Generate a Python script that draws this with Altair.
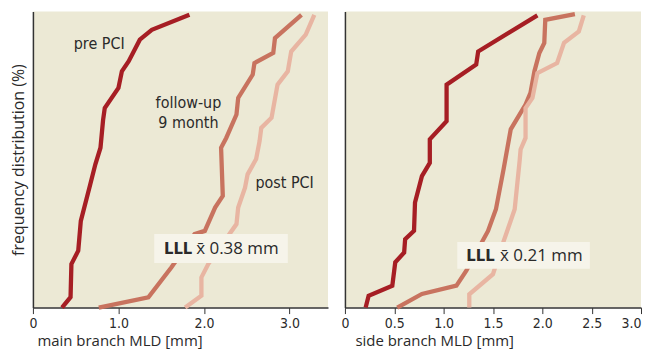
import altair as alt
import pandas as pd

series = ["pre PCI", "follow-up 9 month", "post PCI"]
colors = ["#A61E24", "#C8735F", "#E8B5A2"]

# ---- main branch (left panel) ----
main_pre_x = [0.34, 0.44, 0.45, 0.53, 0.56, 0.67, 0.73, 0.79, 0.82, 0.84, 1.00, 1.04, 1.12, 1.25, 1.39, 1.83]
main_pre_y = [0, 3.5, 14.7, 19.2, 29.3, 41.6, 48.4, 54.0, 63.3, 67.4, 74.2, 79.8, 83.2, 90.5, 93.8, 98.9]
main_fu_x = [0.77, 1.35, 1.62, 1.89, 2.01, 2.13, 2.22, 2.20, 2.26, 2.38, 2.40, 2.57, 2.59, 2.81, 2.83, 3.14]
main_fu_y = [0, 3.5, 13.6, 24.8, 25.9, 33.8, 37.7, 54.0, 57.3, 65.2, 70.8, 78.7, 82.6, 86.0, 91.0, 98.9]
main_post_x = [1.78, 1.97, 1.97, 2.05, 2.38, 2.40, 2.48, 2.51, 2.61, 2.65, 2.67, 2.79, 2.86, 2.98, 3.02, 3.19, 3.29]
main_post_y = [0, 4.0, 10.2, 14.7, 28.2, 33.8, 40.5, 45.0, 50.2, 56.2, 60.7, 64.1, 75.3, 79.8, 86.5, 92.2, 98.9]

# ---- side branch (right panel) ----
side_pre_x = [0.21, 0.24, 0.48, 0.51, 0.60, 0.61, 0.70, 0.71, 0.78, 0.86, 0.86, 1.03, 1.03, 1.33, 1.35, 1.95]
side_pre_y = [0, 4.0, 7.4, 15.3, 18.6, 23.1, 25.9, 35.5, 44.4, 48.9, 56.8, 63.0, 75.3, 82.1, 86.5, 98.7]
side_fu_x = [0.53, 0.78, 1.13, 1.23, 1.45, 1.53, 1.61, 1.68, 1.83, 1.88, 1.92, 1.97, 2.02, 2.03, 2.33]
side_fu_y = [0, 4.6, 7.4, 12.5, 25.9, 33.2, 47.2, 60.2, 68.6, 72.5, 79.8, 86.0, 89.4, 97.2, 99.1]
side_post_x = [1.26, 1.26, 1.50, 1.61, 1.72, 1.77, 1.78, 1.83, 1.83, 1.90, 1.95, 2.15, 2.22, 2.37, 2.42]
side_post_y = [0, 4.5, 11.3, 22.6, 33.2, 49.5, 53.4, 57.3, 67.4, 70.8, 79.2, 82.6, 89.4, 93.3, 98.7]

main_ticks = [0, 1, 2, 3]
side_ticks = [0, 0.5, 1.0, 1.5, 2.0, 2.5, 3.0]
main_title = "main branch MLD [mm]"
side_title = "side branch MLD [mm]"
y_title = "frequency distribution (%)"
main_lll = "0.38 mm"
side_lll = "0.21 mm"

NARROW = "DejaVu Sans Condensed, Liberation Sans Narrow, Roboto, sans-serif"
TICKF = "Liberation Sans Narrow, DejaVu Sans Condensed, Roboto, sans-serif"
NORMAL = "Open Sans, Liberation Sans, sans-serif"
TXT = "#2a2a2a"
AX = "#333333"


def build(sets):
    rows = []
    for name, xs, ys in sets:
        for i, (x, y) in enumerate(zip(xs, ys)):
            rows.append({"series": name, "x": x, "y": y, "i": i})
    return pd.DataFrame(rows)


main_df = build([
    ("follow-up 9 month", main_fu_x, main_fu_y),
    ("post PCI", main_post_x, main_post_y),
    ("pre PCI", main_pre_x, main_pre_y),
])
side_df = build([
    ("follow-up 9 month", side_fu_x, side_fu_y),
    ("post PCI", side_post_x, side_post_y),
    ("pre PCI", side_pre_x, side_pre_y),
])


def label(text, x, y, font=NARROW, size=16, weight="normal", align="center"):
    return alt.Chart(pd.DataFrame({"t": [text]})).mark_text(
        font=font, fontSize=size, fontWeight=weight, align=align,
        baseline="middle", color=TXT
    ).encode(x=alt.value(x), y=alt.value(y), text="t:N")


def box(x1, x2, y1, y2):
    return alt.Chart(pd.DataFrame({"t": [0]})).mark_rect(
        color="#F6F4EA"
    ).encode(x=alt.value(x1), x2=alt.value(x2), y=alt.value(y1), y2=alt.value(y2))


def panel(df, dmax, ticks, xtitle, title_x, width, ytitle, annots):
    xaxis = alt.Axis(
        values=ticks,
        labelExpr="datum.value == 0 ? '0' : format(datum.value, '.1f')",
        labelFlush=False,
        labelAlign={"condition": {"test": "datum.value >= 3 && %s" % ("true" if dmax <= 3 else "false"),
                                  "value": "right"}, "value": "center"},
        title=xtitle, titleAnchor="start", titleX=title_x, titleAlign="left",
        grid=False, domainColor=AX, domainWidth=1.5, tickColor=AX, tickSize=6,
        labelFont=TICKF, labelFontSize=14, labelColor=TXT, labelPadding=3,
        titleFont=NORMAL, titleFontSize=15, titleFontWeight="normal",
        titleColor=TXT, titlePadding=3,
    )
    yaxis = alt.Axis(
        labels=False, ticks=False, grid=False, domainColor=AX, domainWidth=1.5,
        title=ytitle, titleFont=NORMAL, titleFontSize=16,
        titleFontWeight="normal", titleColor=TXT, titlePadding=6,
    )
    lines = alt.Chart(df).mark_line(strokeWidth=4.3).encode(
        x=alt.X("x:Q", scale=alt.Scale(domain=[0, dmax], nice=False, zero=True), axis=xaxis),
        y=alt.Y("y:Q", scale=alt.Scale(domain=[0, 100], nice=False), axis=yaxis),
        color=alt.Color("series:N", scale=alt.Scale(domain=series, range=colors), legend=None),
        detail="series:N",
        order=alt.Order("i:Q"),
    )
    return alt.layer(lines, *annots).properties(width=width, height=297)


left_annots = [
    label("pre PCI", 66.5, 32.5),
    label("follow-up", 156, 92),
    label("9 month", 156, 112),
    label("post PCI", 252.5, 172),
    box(121.7, 255.7, 223.3, 252.3),
    label("LLL", 131.5, 238.5, font=TICKF, size=16.5, weight="bold", align="left"),
    label("x\u0304 " + main_lll, 163.8, 238.5, font=NORMAL, size=17, align="left"),
]
right_annots = [
    box(112.7, 245.7, 231.3, 258),
    label("LLL", 121.8, 245.5, font=TICKF, size=16.5, weight="bold", align="left"),
    label("x\u0304 " + side_lll, 155.6, 245.5, font=NORMAL, size=17, align="left"),
]

left = panel(main_df, 3.45, main_ticks, main_title, 4, 296, y_title, left_annots)
right = panel(side_df, 3.0, side_ticks, side_title, 10, 297, None, right_annots)

chart = alt.hconcat(left, right, spacing=12).properties(
    padding={"left": 3, "top": -3, "right": 0, "bottom": 0}
).configure_view(
    strokeWidth=0, fill="#ECE9D5"
)

chart.save("out.html", embed_options={"renderer": "svg", "actions": False})
